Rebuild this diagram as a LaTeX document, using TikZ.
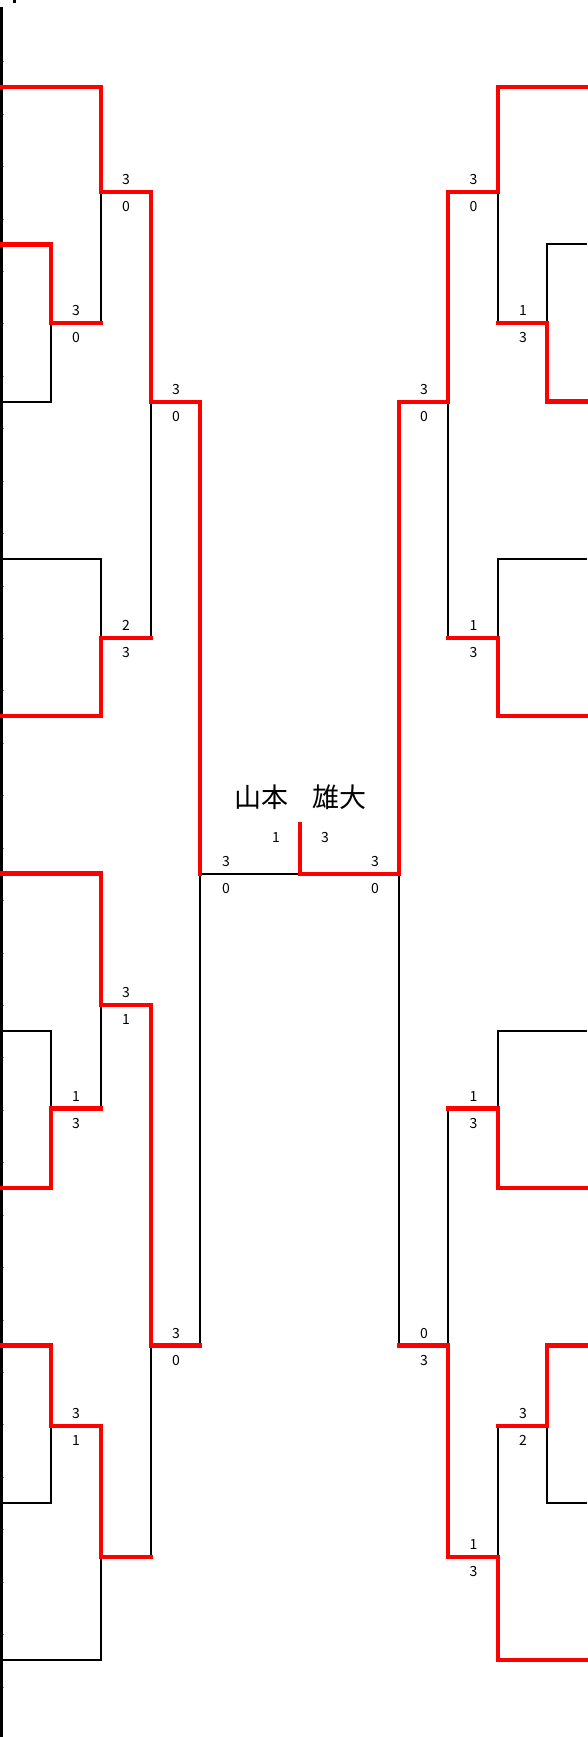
\documentclass[tikz,border=0pt]{standalone}
\usepackage{fontspec}
\newfontfamily\jp{Noto Sans CJK JP}
\begin{document}
\begin{tikzpicture}[x=1pt,y=-1pt,
  blk/.style={draw=black,line width=1.8pt,line join=miter},
  win/.style={draw=red,line width=4.5pt,line join=miter,line cap=rect},
  sc/.style={inner sep=0pt,font=\jp\fontsize{14}{14}\selectfont},
  nm/.style={inner sep=0pt,font=\jp\fontsize{27}{27}\selectfont},
  tickmark/.style={draw=black!45,line width=0.8pt}]
\fill[white] (0,0) rectangle (587,1737);
\useasboundingbox (0,0) rectangle (587,1737);
% levels
\def\La{51}\def\Lb{101}\def\Lc{151}\def\Ld{200}\def\Cx{300}
\def\Rd{399}\def\Rc{448}\def\Rb{498}\def\Ra{547}\def\Ex{587}
% leaves
\def\Ya{87}\def\Yb{244.3}\def\Yc{401.6}\def\Yd{558.9}\def\Ye{716.2}\def\Yf{873.5}
\def\Yg{1030.8}\def\Yh{1188.1}\def\Yi{1345.4}\def\Yj{1502.7}\def\Yk{1660}
% joints
\def\Jb{192}\def\Ja{323}\def\Jd{402}\def\Jc{638}\def\Jj{874}
\def\Jf{1005}\def\Je{1108.6}\def\Ji{1345.6}\def\Jg{1426}\def\Jh{1557}
% named joint coordinates
\coordinate (ja) at (\La,\Ja); \coordinate (jb) at (\Lb,\Jb);
\coordinate (jc) at (\Lb,\Jc); \coordinate (jd) at (\Lc,\Jd);
\coordinate (jj) at (\Ld,\Jj); \coordinate (jf) at (\Lb,\Jf);
\coordinate (je) at (\La,\Je); \coordinate (jg) at (\La,\Jg);
\coordinate (jh) at (\Lb,\Jh); \coordinate (ji) at (\Lc,\Ji);
\coordinate (kA) at (\Rb,\Jb); \coordinate (kB) at (\Ra,\Ja);
\coordinate (kC) at (\Rb,\Jc); \coordinate (kD) at (\Rc,\Jd);
\coordinate (kI) at (\Rd,\Jj); \coordinate (kE) at (\Rb,\Je);
\coordinate (kF) at (\Ra,\Jg); \coordinate (kG) at (\Rb,\Jh);
\coordinate (kH) at (\Rc,\Ji);
\coordinate (fin) at (\Cx,\Jj); \coordinate (fintop) at (\Cx,824);
% left border line, dot and ticks
\draw[black,line width=3pt] (1.5,7) -- (1.5,1737);
\fill[black] (12.5,0) rectangle (15.5,3);
\foreach \k in {0,...,31} {\draw[tickmark] (3,61.7+52.43*\k) -- (4.2,61.7+52.43*\k);}
% ---------- black lines ----------
\draw[blk] (0,\Yc) -| (ja);
\draw[blk] (jb) -- (\Lb,\Ja);
\draw[blk] (0,\Yd) -| (jc);
\draw[blk] (jd) -- (\Lc,\Jc);
\draw[blk] (jj) -- (\Ld,\Ji);
\draw[blk] (jj) -- (fin);
\draw[blk] (0,\Yg) -| (je);
\draw[blk] (jf) -- (\Lb,\Je);
\draw[blk] (0,\Yj) -| (jg);
\draw[blk] (0,\Yk) -| (jh);
\draw[blk] (ji) -- (\Lc,\Jh);
\draw[blk] (\Ex,\Yb) -| (kB);
\draw[blk] (kA) -- (\Rb,\Ja);
\draw[blk] (\Ex,\Yd) -| (kC);
\draw[blk] (kD) -- (\Rc,\Jc);
\draw[blk] (kI) -- (\Rd,\Ji);
\draw[blk] (\Ex,\Yg) -| (kE);
\draw[blk] (\Rc,\Je) -- (kH);
\draw[blk] (\Ex,\Yj) -| (kF);
\draw[blk] (\Rb,\Jg) -- (kG);
% ---------- red (winner) lines ----------
\draw[win] (0,\Ya) -| (jb) -- (\Lc,\Jb) |- (\Ld,\Jd) -- (jj);
\draw[win] (0,\Yb) -| (ja) -- (\Lb,\Ja);
\draw[win] (0,\Ye) -| (jc) -- (\Lc,\Jc);
\draw[win] (0,\Yf) -| (jf) -- (\Lc,\Jf) |- (\Ld,\Ji);
\draw[win] (0,\Yh) -| (je) -- (\Lb,\Je);
\draw[win] (0,\Yi) -| (jg) -- (\Lb,\Jg) |- (\Lc,\Jh);
\draw[win] (\Ex,\Ya) -| (kA) -- (\Rc,\Jb) |- (\Rd,\Jd) |- (fin) -- (fintop);
\draw[win] (\Ex,\Yc) -| (kB) -- (\Rb,\Ja);
\draw[win] (\Ex,\Ye) -| (kC) -- (\Rc,\Jc);
\draw[win] (\Ex,\Yh) -| (kE) -- (\Rc,\Je);
\draw[win] (\Ex,\Yi) -| (kF) -- (\Rb,\Jg);
\draw[win] (\Ex,\Yk) -| (kG) -- (\Rc,\Jh) |- (\Rd,\Ji);
% ---------- scores ----------
\newcommand\scorepair[5]{%
  \node[sc] (#1t) at (#2,#3-12.5) {#4};
  \node[sc] (#1b) at (#2,#3+14.5) {#5};}
\scorepair{sa}{76}{\Ja}{3}{0}
\scorepair{sb}{126}{\Jb}{3}{0}
\scorepair{sc}{126}{\Jc}{2}{3}
\scorepair{sd}{176}{\Jd}{3}{0}
\scorepair{sj}{226}{\Jj}{3}{0}
\scorepair{sf}{126}{\Jf}{3}{1}
\scorepair{se}{76}{\Je}{1}{3}
\scorepair{sg}{76}{\Jg}{3}{1}
\scorepair{si}{176}{\Ji}{3}{0}
\scorepair{tA}{473.5}{\Jb}{3}{0}
\scorepair{tB}{523}{\Ja}{1}{3}
\scorepair{tC}{473.5}{\Jc}{1}{3}
\scorepair{tD}{424}{\Jd}{3}{0}
\scorepair{tI}{375}{\Jj}{3}{0}
\scorepair{tE}{473.5}{\Je}{1}{3}
\scorepair{tF}{523}{\Jg}{3}{2}
\scorepair{tG}{473.5}{\Jh}{1}{3}
\scorepair{tH}{424}{\Ji}{0}{3}
\node[sc] (fl) at (276,837) {1};
\node[sc] (fr) at (325,837) {3};
% ---------- champion name ----------
\node[nm] (n1) at (261,797.5) {山本};
\node[nm] (n2) at (339,797.5) {雄大};
\end{tikzpicture}
\end{document}
